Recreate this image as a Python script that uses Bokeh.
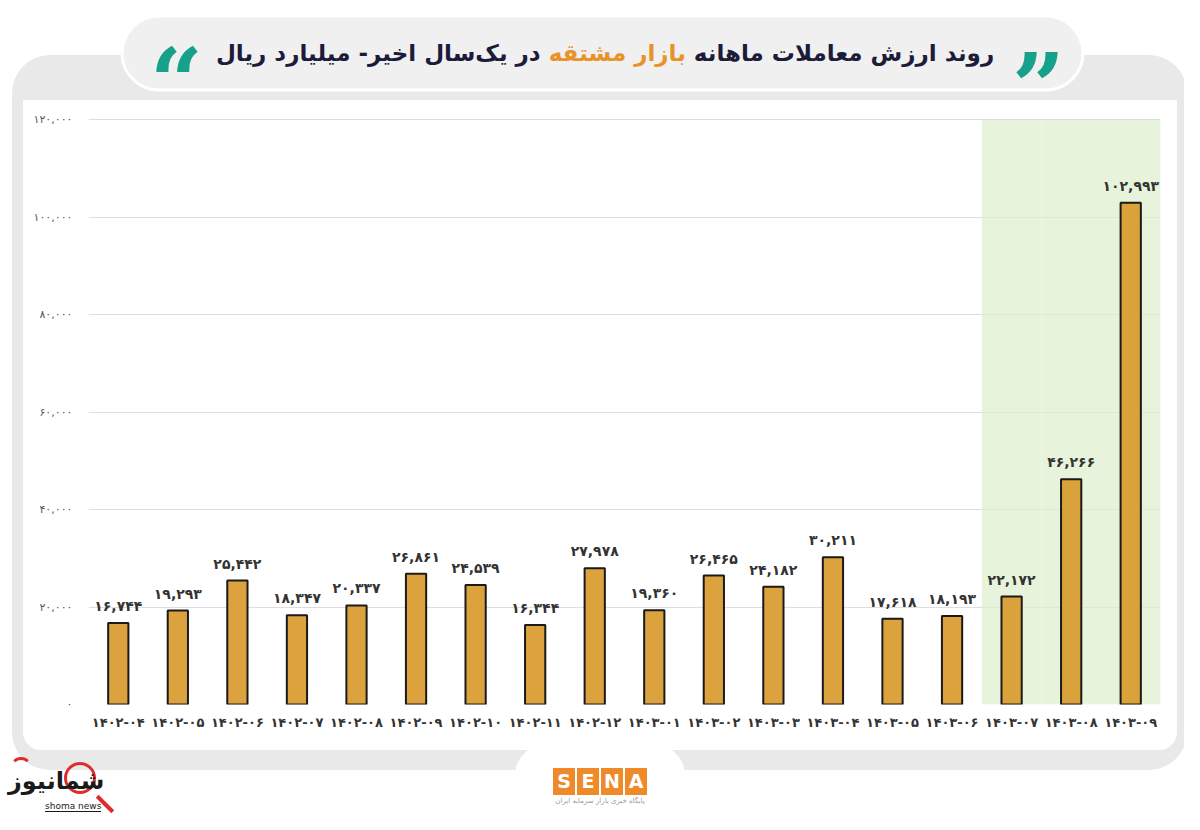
from bokeh.plotting import figure
from bokeh.models import ColumnDataSource, Range1d, FixedTicker, Div
from bokeh.layouts import column
from bokeh.embed import file_html
from bokeh.resources import INLINE
from bokeh.core.properties import value

FA = str.maketrans("0123456789", "۰۱۲۳۴۵۶۷۸۹")
def fa(s):
    return str(s).translate(FA)

months = ["1402-04", "1402-05", "1402-06", "1402-07", "1402-08", "1402-09",
          "1402-10", "1402-11", "1402-12", "1403-01", "1403-02", "1403-03",
          "1403-04", "1403-05", "1403-06", "1403-07", "1403-08", "1403-09"]
values = [16744, 19293, 25442, 18347, 20337, 26861, 24539, 16344, 27978,
          19360, 26465, 24182, 30211, 17618, 18193, 22172, 46266, 102993]
highlight_months = ["1403-07", "1403-08", "1403-09"]
y_ticks = [0, 20000, 40000, 60000, 80000, 100000, 120000]

title_right = "روند ارزش معاملات ماهانه"
title_mid = "بازار مشتقه"
title_left = "در یک‌سال اخیر- میلیارد ریال"
sena_letters = ["S", "E", "N", "A"]
sena_caption = "پایگاه خبری بازار سرمایه ایران"
watermark = "شمانیوز"
watermark_latin = "shoma news"

W, H = 1184, 814
H_TOP = 96                # title strip height
H1 = 644                  # chart figure height
H2 = H - H_TOP - H1       # bottom strip height
FONT = "DejaVu Sans"

# ---- title strip (HTML) ----
top_html = (
    f"<div style='position:relative;width:{W}px;height:{H_TOP}px'>"
    "<div style='position:absolute;left:205px;width:800px;top:40px;line-height:28px;"
    "text-align:center;direction:rtl;white-space:nowrap;font:bold 23px \"DejaVu Sans\";color:#1c1c3a'>"
    f"{title_right} <span style='color:#e8932a'>{title_mid}</span> {title_left}</div>"
    "<div style='position:absolute;left:150px;top:28px;line-height:1;"
    "font:bold 92px \"DejaVu Serif\";color:#17a08a'>\u201c</div>"
    "<div style='position:absolute;left:1012px;top:33px;line-height:1;"
    "font:bold 92px \"DejaVu Serif\";color:#17a08a'>\u201d</div>"
    "</div>")
top = Div(text=top_html, width=W, height=H_TOP, margin=(0, 0, 0, 0))

# ---- chart ----
cats = [fa(m) for m in months]
src = ColumnDataSource(dict(x=cats, top=values, label=[fa(f"{v:,}") for v in values]))

p = figure(width=W, height=H1, x_range=cats, y_range=Range1d(0, 124000),
           output_backend="svg", toolbar_location=None,
           min_border_left=88, min_border_right=24, min_border_top=4, min_border_bottom=36)
p.outline_line_color = None
p.background_fill_color = None
p.border_fill_color = None

# highlight band
p.vbar(x=[fa(m) for m in highlight_months], top=y_ticks[-1], width=1.0,
       fill_color="#ddf0cc", fill_alpha=0.7, line_color=None)

p.vbar(x="x", top="top", source=src, width=0.34, fill_color="#d99a2e", fill_alpha=0.92,
       line_color="#1a1a1a", line_width=2)
p.text(x="x", y="top", text="label", source=src, y_offset=-9, text_align="center",
       text_baseline="bottom", text_font=value(FONT), text_font_style="bold",
       text_font_size="14px", text_color="#333333")

p.ygrid.ticker = FixedTicker(ticks=y_ticks)
p.ygrid.grid_line_color = "#dedede"
p.xgrid.grid_line_color = None

p.yaxis.ticker = FixedTicker(ticks=y_ticks)
p.yaxis.major_label_overrides = {t: fa(f"{t:,}") for t in y_ticks}
p.yaxis.axis_line_color = None
p.yaxis.major_tick_line_color = None
p.yaxis.minor_tick_line_color = None
p.yaxis.major_label_standoff = 10
p.yaxis.major_label_text_font = FONT
p.yaxis.major_label_text_font_size = "11px"
p.yaxis.major_label_text_color = "#555555"

p.xaxis.axis_line_color = None
p.xaxis.major_tick_line_color = None
p.xaxis.major_label_standoff = 4
p.xaxis.major_label_text_font = FONT
p.xaxis.major_label_text_font_style = "bold"
p.xaxis.major_label_text_font_size = "13px"
p.xaxis.major_label_text_color = "#333333"

# ---- bottom strip: logo and watermark (HTML) ----
sena_html = "".join(
    f"<span style='position:absolute;left:{553 + i * 24}px;top:28px;width:22px;height:27px;"
    f"background:#ef8a2a;color:white;font:bold 19px \"DejaVu Sans\";text-align:center;"
    f"line-height:27px'>{ch}</span>" for i, ch in enumerate(sena_letters))
bottom_html = (
    f"<div style='position:relative;width:{W}px;height:{H2}px;overflow:hidden'>"
    + sena_html +
    f"<span style='position:absolute;left:540px;width:120px;top:57px;text-align:center;"
    f"font:7px \"DejaVu Sans\";color:#999'>{sena_caption}</span>"
    "<span style='position:absolute;left:10px;top:17px;width:22px;height:22px;border-radius:50%;"
    "border:3px solid #e02b2b;border-left-color:transparent;border-right-color:transparent;"
    "border-bottom-color:transparent'></span>"
    "<span style='position:absolute;left:64px;top:22px;width:32px;height:32px;border-radius:50%;"
    "border:3px solid #e02b2b'></span>"
    "<span style='position:absolute;left:94px;top:62px;width:22px;height:4px;background:#e02b2b;"
    "transform:rotate(45deg)'></span>"
    f"<span style='position:absolute;left:8px;top:27px;width:96px;text-align:center;"
    f"font:bold 24px \"DejaVu Sans\";color:#1a1a1a'>{watermark}</span>"
    f"<span style='position:absolute;left:45px;top:61px;font:9px \"DejaVu Sans\";color:#1a1a1a;"
    f"border-bottom:1px solid #1a1a1a'>{watermark_latin}</span>"
    "</div>")
bottom = Div(text=bottom_html, width=W, height=H2, margin=(0, 0, 0, 0))

# ---- decorative card background (CSS, behind the transparent canvas) ----
bg_svg = ("<svg xmlns='http://www.w3.org/2000/svg' width='1184' height='814' viewBox='0 0 1184 814'>"
          "<rect x='0' y='0' width='1184' height='814' fill='white'/>"
          "<rect x='12' y='55' width='1175' height='715' rx='38' fill='rgb(233,233,233)'/>"
          "<rect x='23' y='100' width='1154' height='650' rx='18' fill='white'/>"
          "<rect x='23' y='100' width='1154' height='40' fill='white'/>"
          "<rect x='122' y='16' width='961' height='74' rx='37' fill='rgb(240,240,240)' stroke='white' stroke-width='3'/>"
          "<rect x='515' y='745' width='170' height='67' rx='30' fill='white'/>"
          "</svg>")
layout = column(top, p, bottom, spacing=0)
layout.styles = {"background-image": 'url("data:image/svg+xml;utf8,' + bg_svg + '")',
                 "background-repeat": "no-repeat", "background-size": "1184px 814px",
                 "background-position": "0 0"}

open("out.html", "w").write(file_html(layout, INLINE))
